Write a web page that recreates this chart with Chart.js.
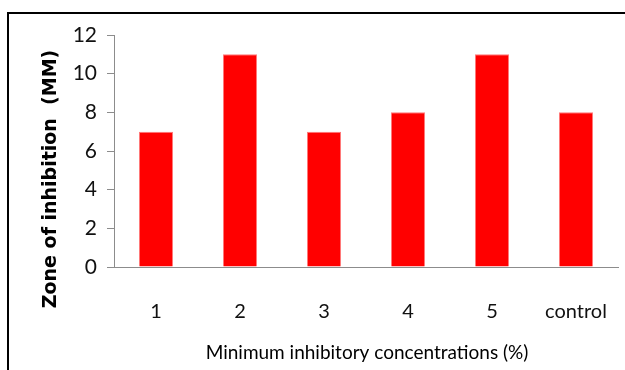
<!DOCTYPE html>
<html>
<head>
<meta charset="utf-8">
<script src="https://cdn.jsdelivr.net/npm/chart.js@4"></script>
<style>
    html, body { margin: 0; padding: 0; background: #fff; }
    #chart { display: block; }
</style>
</head>
<body>
<canvas id="chart" width="625" height="370"></canvas>
<script>
(function () {
    'use strict';

    // data
    var categories = ['1', '2', '3', '4', '5', 'control'];
    var zoneValues = [7, 11, 7, 8, 11, 8];
    var yTicks = [0, 2, 4, 6, 8, 10, 12];

    var yTitle = 'Zone of inhibition  (MM)';
    var xTitle = 'Minimum inhibitory concentrations (%)';

    var AXIS_GREY = '#8c8c8c';
    var LABEL_FONT = 'Lato, "Open Sans", sans-serif';

    // frame lines + axis titles (Excel-style placement)
    var decorations = {
        id: 'decorations',
        afterDraw: function (chart) {
            var ctx = chart.ctx;
            ctx.save();
            ctx.strokeStyle = '#000';
            ctx.lineWidth = 2;
            ctx.beginPath();
            ctx.moveTo(8, 370);
            ctx.lineTo(8, 13);
            ctx.lineTo(625, 13);
            ctx.stroke();

            ctx.fillStyle = '#000';
            ctx.textAlign = 'center';
            ctx.textBaseline = 'middle';

            ctx.font = '19px ' + LABEL_FONT;
            ctx.fillText(xTitle, 367, 353);

            ctx.translate(51, 179);
            ctx.rotate(-Math.PI / 2);
            ctx.font = 'bold 19px "DejaVu Sans", Verdana, sans-serif';
            ctx.fillText(yTitle, 0, 0);
            ctx.restore();
        }
    };

    new Chart(document.getElementById('chart').getContext('2d'), {
        type: 'bar',
        data: {
            labels: categories,
            datasets: [{
                data: zoneValues,
                backgroundColor: '#ff0000',
                borderColor: '#ff7a7a',
                borderWidth: 1,
                categoryPercentage: 1,
                barPercentage: 0.405
            }]
        },
        options: {
            responsive: false,
            animation: false,
            events: [],
            layout: { padding: { top: 35, right: 7, left: 0, bottom: 0 } },
            plugins: {
                legend: { display: false },
                tooltip: { enabled: false }
            },
            scales: {
                x: {
                    grid: { display: false },
                    border: { display: true, color: AXIS_GREY, width: 1 },
                    ticks: {
                        color: '#111',
                        padding: 25,
                        maxRotation: 0,
                        font: { family: LABEL_FONT, size: 20 }
                    },
                    afterFit: function (scale) {
                        scale.height = 103;
                        scale.paddingLeft = 0;
                        scale.paddingRight = 0;
                    }
                },
                y: {
                    min: yTicks[0],
                    max: yTicks[yTicks.length - 1],
                    afterBuildTicks: function (scale) {
                        scale.ticks = yTicks.map(function (v) { return { value: v }; });
                    },
                    grid: {
                        display: true,
                        drawOnChartArea: false,
                        drawTicks: true,
                        tickLength: 7,
                        color: AXIS_GREY
                    },
                    border: { display: true, color: AXIS_GREY, width: 1 },
                    ticks: {
                        color: '#111',
                        padding: 10,
                        font: { family: LABEL_FONT, size: 21 }
                    },
                    afterFit: function (scale) {
                        scale.width = 114;
                        scale.paddingTop = 0;
                        scale.paddingBottom = 0;
                    }
                }
            }
        },
        plugins: [decorations]
    });
})();
</script>
</body>
</html>
